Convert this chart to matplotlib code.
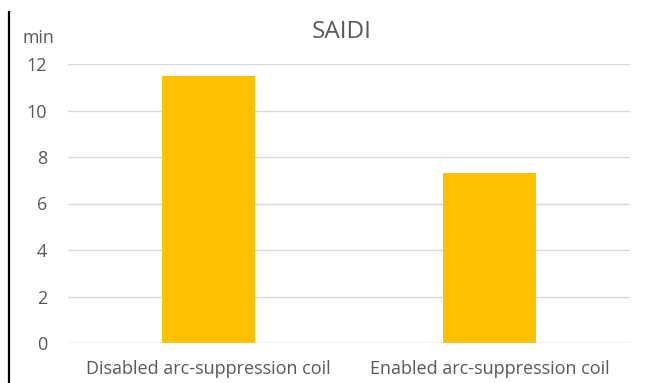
import matplotlib
matplotlib.use("Agg")
import matplotlib.pyplot as plt
from matplotlib.lines import Line2D

categories = ["Disabled arc-suppression coil", "Enabled arc-suppression coil"]
values = [11.5, 7.3]
yticks = [0, 2, 4, 6, 8, 10, 12]

plt.rcParams['font.family'] = ['Open Sans', 'DejaVu Sans']
text_color = '#595959'

fig = plt.figure(figsize=(6.52, 3.83), dpi=100)
ax = fig.add_axes([68/652, 40/383, 562/652, 279/383])

x = list(range(len(categories)))
ax.bar(x, values, width=0.33, color='#FFC000', zorder=2)
ax.set_xlim(-0.5, len(categories) - 0.5)
ax.set_ylim(0, 12)
ax.set_yticks(yticks)
ax.set_yticklabels([str(t) for t in yticks])
ax.set_xticks(x)
ax.set_xticklabels(categories)
ax.grid(axis='y', color='#D9D9D9', linewidth=1.0, zorder=0)
ax.axhline(0, color='#D9D9D9', linewidth=1.0, zorder=3)
for s in ax.spines.values():
    s.set_visible(False)
ax.tick_params(axis='both', length=0, labelsize=13, colors=text_color)
ax.tick_params(axis='y', pad=15)
ax.tick_params(axis='x', pad=12)
fig.text(342/652, 1 - 32.5/383, "SAIDI", fontsize=17.5, color=text_color, va='center', ha='center')
fig.text(22/652, 1 - 38/383, "min", fontsize=12.8, color=text_color, va='center', ha='left')
fig.add_artist(Line2D([9/652, 9/652], [0, 1 - 12/383], transform=fig.transFigure, color='black', linewidth=1.6))

fig.savefig("out.png", dpi=100)
